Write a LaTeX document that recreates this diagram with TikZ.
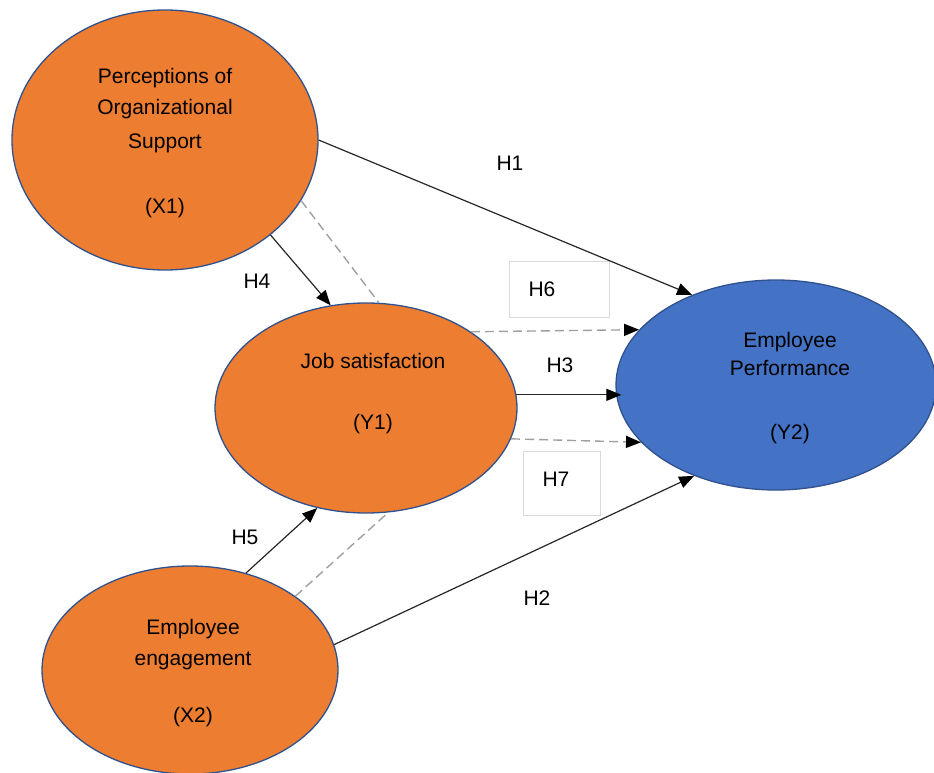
\documentclass[tikz,border=0pt]{standalone}
\usepackage{fontspec}
\setmainfont{Liberation Sans}
\usetikzlibrary{shapes.geometric,arrows.meta}
\definecolor{oforange}{HTML}{ED7D31}
\definecolor{ofblue}{HTML}{4472C4}
\definecolor{rimblue}{HTML}{2F528F}
\definecolor{dashgray}{HTML}{9F9F9F}
\definecolor{boxgray}{HTML}{D9D9D9}

\begin{document}
\begin{tikzpicture}[x=1pt,y=-1pt,
  construct/.style={draw=rimblue, line width=1.3pt, ellipse, inner sep=0pt},
  ctext/.style={align=center, font=\fontsize{21}{31}\selectfont},
  hyp/.style={font=\fontsize{21}{25}\selectfont},
  link/.style={draw=black!85, line width=1.2pt, -{Triangle[length=15pt,width=12pt,color=black]}},
  medlink/.style={draw=dashgray, line width=1.4pt, dash pattern=on 9pt off 5pt},
  hbox/.style={draw=boxgray, line width=1pt, inner sep=0pt}]
\useasboundingbox (0,0) rectangle (934,773);

% constructs
\node[construct, fill=oforange, minimum width=306pt, minimum height=260pt] (x1) at (165,140) {};
\node[construct, fill=oforange, minimum width=302pt, minimum height=210pt] (y1) at (366,408) {};
\node[construct, fill=oforange, minimum width=296pt, minimum height=208pt] (x2) at (190,670) {};
\node[construct, fill=ofblue, minimum width=320pt, minimum height=210pt] (y2) at (776,385) {};

\node[ctext] (x1t) at (165,143) {Perceptions of\\Organizational\\[3pt]Support\\[34pt](X1)};
\node[ctext] (y1t) at (373,394) {Job satisfaction\\[30pt](Y1)};
\node[ctext] (x2t) at (193,673) {Employee\\engagement\\[26pt](X2)};
\node[ctext] (y2t) at (790,388) {Employee\\[-3pt]Performance\\[33pt](Y2)};

% boxes for the mediation paths
\node[hbox, minimum width=100pt, minimum height=56pt] (b6) at (559,289) {};
\node[hbox, minimum width=77pt, minimum height=64pt] (b7) at (561.5,483) {};

% direct paths
\path[link] (x1.east) -- (y2.133);
\path[link] (x1.-42) -- (y1.109);
\path[link] (y1.5) -- ([xshift=6pt]y1.5 -| y2.west);
\path[link] (x2.60) -- (y1.-116);
\path[link] (x2.10) -- (y2.-132);

% indirect paths
\path[medlink] (x1.-24) -- (y1.83);
\path[medlink] (x2.35) -- (y1.-78);
\path[medlink, -{Triangle[length=15pt,width=12pt,color=black]}] (y1.36) -- (y2.158);
\path[medlink, -{Triangle[length=15pt,width=12pt,color=black]}] (y1.-12) -- (y2.203);

% labels
\node[hyp] (h1) at (510,163) {H1};
\node[hyp] (h2) at (537,598) {H2};
\node[hyp] (h3) at (560,365) {H3};
\node[hyp] (h4) at (257,281) {H4};
\node[hyp] (h5) at (245,537) {H5};
\node[hyp] (h6) at (542,289) {H6};
\node[hyp] (h7) at (556,479) {H7};
\end{tikzpicture}
\end{document}
